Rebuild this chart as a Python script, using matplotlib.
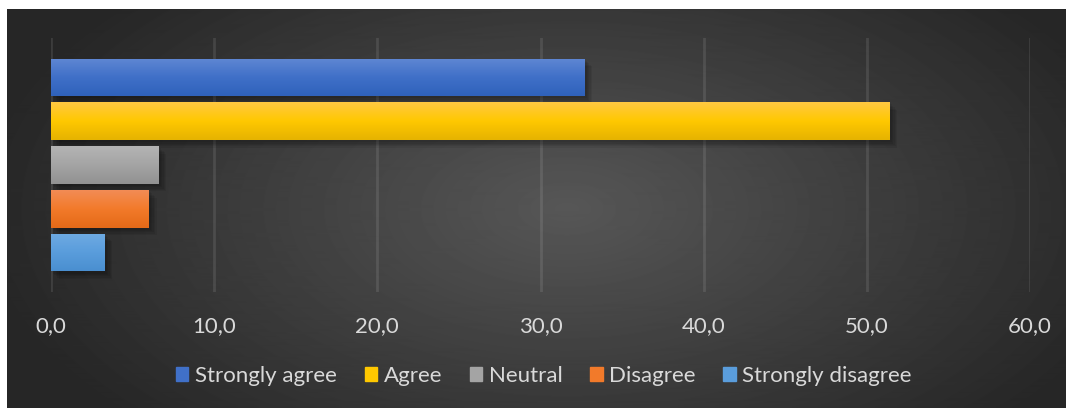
import matplotlib.pyplot as plt
import matplotlib.patheffects as pe
import numpy as np
from matplotlib.colors import LinearSegmentedColormap

# data
labels = ['Strongly agree', 'Agree', 'Neutral', 'Disagree', 'Strongly disagree']
values = [32.7, 51.4, 6.6, 6.0, 3.3]
xticks = [0, 10, 20, 30, 40, 50, 60]
xtick_labels = ['0,0', '10,0', '20,0', '30,0', '40,0', '50,0', '60,0']

# (top, middle, bottom) colours of each bar gradient
grads = [('#5f87d3', '#4070c8', '#2f62bb'),
         ('#ffc942', '#ffc800', '#e6b300'),
         ('#b4b4b4', '#a4a4a4', '#929292'),
         ('#f38c55', '#f27a2a', '#e46a18'),
         ('#6eaae2', '#5a9ddc', '#4a8fd0')]

plt.rcParams['font.family'] = ['Lato', 'DejaVu Sans']
text_col = '#d9d9d9'

W, H = 1066, 409
fig = plt.figure(figsize=(W / 100, H / 100), dpi=100)
fig.patch.set_facecolor('white')

# dark radial background
bg = fig.add_axes([7 / W, 1 / H, (W - 7) / W, (H - 10) / H])
bg.set_axis_off()
yy, xx = np.mgrid[0:400, 0:1059]
r = np.sqrt(((xx - 560) / 620.0) ** 2 + ((yy - 200) / 330.0) ** 2)
shade = np.clip(0.34 - 0.20 * r, 0.15, 0.34)
bg.imshow(shade, cmap='gray', vmin=0, vmax=1, aspect='auto',
          extent=[0, 1, 0, 1], interpolation='bilinear')
bg.set_xlim(0, 1)
bg.set_ylim(0, 1)

ax = fig.add_axes([51 / W, 1 - 292 / H, (1030 - 51) / W, (292 - 38) / H])
ax.patch.set_alpha(0)

ypos = np.arange(len(values))
shadow = [pe.SimplePatchShadow(offset=(1.5 + k, -1.5 - k), shadow_rgbFace='black', alpha=0.07)
          for k in range(5)] + [pe.Normal()]
bars = ax.barh(ypos, values, height=0.86, color=[g[2] for g in grads],
               label=labels, zorder=3, path_effects=shadow)

for p, g in zip(bars.patches, grads):
    cmap = LinearSegmentedColormap.from_list('g', [g[0], g[1], g[2]])
    grad = np.linspace(0, 1, 64).reshape(-1, 1)
    x0, y0 = p.get_x(), p.get_y()
    im = ax.imshow(grad, cmap=cmap, aspect='auto', zorder=4,
                   extent=[x0, x0 + p.get_width(), y0 + p.get_height(), y0])
    im.set_clip_path(p)

ax.set_xlim(0, 60)
ax.set_ylim(len(values) - 0.1, -0.9)
ax.set_xticks(xticks)
ax.set_xticklabels(xtick_labels)
ax.set_yticks([])
ax.tick_params(axis='x', length=0, pad=17, labelsize=16, colors=text_col)
ax.grid(axis='x', color='white', alpha=0.1, linewidth=2, zorder=1)
for s in ax.spines.values():
    s.set_visible(False)

handles = [plt.Rectangle((0, 0), 1, 1, color=g[1]) for g in grads]
fig.legend(handles, labels, loc='center', bbox_to_anchor=(544 / W, 1 - 376 / H),
           ncol=5, frameon=False, fontsize=16, labelcolor=text_col,
           handlelength=0.55, handleheight=0.55, handletextpad=0.3,
           columnspacing=1.25)

fig.savefig('out.png', dpi=100, facecolor=fig.get_facecolor())
